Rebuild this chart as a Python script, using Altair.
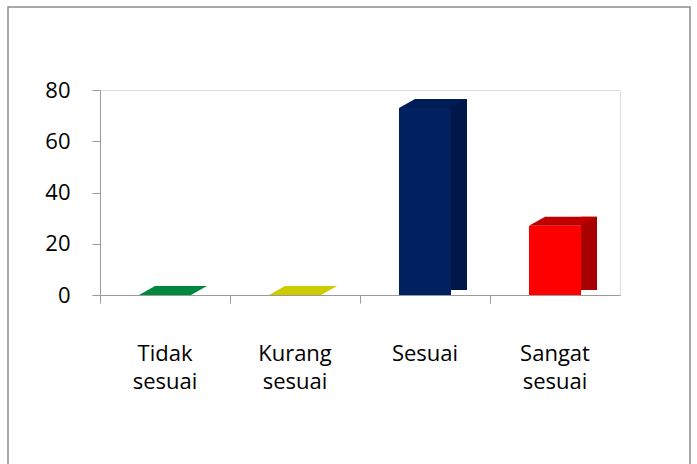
import altair as alt
import pandas as pd

categories = ["Tidak sesuai", "Kurang sesuai", "Sesuai", "Sangat sesuai"]
values = [0, 0, 73, 27]
front_colors = ["#00873E", "#CCCC00", "#002060", "#FF0000"]
side_colors = ["#006B30", "#A8A800", "#001848", "#A80000"]
top_colors = ["#00873E", "#CCCC00", "#001C56", "#C00000"]

df = pd.DataFrame({
    "cat": categories,
    "val": values,
    "front": front_colors,
    "side": side_colors,
    "top": top_colors,
})

W, H = 520, 205
FONT = "Open Sans"

x = alt.X("cat:N", sort=categories, title=None,
          scale=alt.Scale(paddingInner=0, paddingOuter=0),
          axis=alt.Axis(labelAngle=0, bandPosition=0, domainColor="#9a9a9a",
                        tickColor="#9a9a9a", tickSize=8, labelFontSize=22,
                        labelColor="#000000", labelFont=FONT,
                        labelPadding=40, labelLineHeight=28,
                        labelExpr="split(datum.label, ' ')", labelBaseline="top"))
y = alt.Y("val:Q", title=None,
          scale=alt.Scale(domain=[0, 80], nice=False),
          axis=alt.Axis(values=[0, 20, 40, 60, 80], grid=False, domainColor="#9a9a9a",
                        tickColor="#9a9a9a", tickSize=8, labelFontSize=22,
                        labelColor="#000000", labelFont=FONT, labelPadding=22))

base = alt.Chart(df)

# side face (depth 16 px right, 9 px up)
side = base.transform_filter("datum.val > 0").mark_bar(
    width=16, xOffset=34, yOffset=-9, y2Offset=-5).encode(
    x=x, y=y, y2=alt.datum(0), color=alt.Color("side:N", scale=None))
# front face
front = base.transform_filter("datum.val > 0").mark_bar(width=52).encode(
    x=x, y=y, y2=alt.datum(0), color=alt.Color("front:N", scale=None))
# top face as parallelogram symbol (1 unit = 10 px at size 400)
top_shape = "M -2.6 0 L 2.6 0 L 4.2 -0.9 L -1.0 -0.9 Z"
top = base.mark_point(shape=top_shape, size=400, filled=True, opacity=1,
                      strokeWidth=0).encode(
    x=x, y=y, color=alt.Color("top:N", scale=None))

border = alt.Chart(df.head(1)).mark_rect(fill=None, stroke="#8c8c8c", strokeWidth=1.5).encode(
    x=alt.value(-92), x2=alt.value(590), y=alt.value(-83), y2=alt.value(390))

chart = alt.layer(border, side, front, top).properties(
    width=W, height=H,
    autosize=alt.AutoSizeParams(type="none"),
    padding={"left": 100, "top": 90, "right": 77, "bottom": 169},
).configure_view(stroke=None).configure(background="white")

chart.save("out.html", embed_options={"renderer": "svg", "actions": False})
